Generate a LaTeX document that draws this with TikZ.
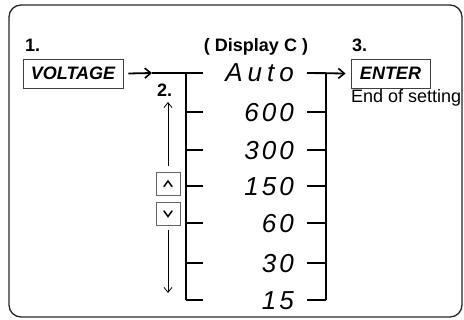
\documentclass[tikz,border=0pt]{standalone}
\usepackage{fontspec}
\setmainfont{Liberation Sans}
\usetikzlibrary{arrows.meta}
\begin{document}
\begin{tikzpicture}[x=1pt,y=-1pt,
  lbl/.style={font=\fontsize{18}{20}\selectfont\bfseries, inner sep=0pt},
  keybox/.style={draw=black!75, line width=0.9pt, font=\fontsize{18}{20}\selectfont\bfseries\itshape, inner sep=0pt},
  plain/.style={font=\fontsize{18}{20}\selectfont, inner sep=0pt},
  segval/.style={font=\fontsize{26}{28}\selectfont\itshape, inner sep=0pt, anchor=base east},
  tree/.style={line width=1.8pt},
  bigarrow/.style={line width=1.8pt, -{Straight Barb[length=6pt,width=10pt,line width=1.6pt]}},
  thinarrow/.style={line width=0.8pt, -{Straight Barb[length=5pt,width=8pt,line width=0.8pt]}},
  btn/.style={draw=black!60, line width=0.9pt, minimum width=24pt, minimum height=23pt, inner sep=0pt},
  chev/.style={line width=1.5pt, line cap=round, line join=miter}
]
\useasboundingbox (0,0) rectangle (464,320);
\draw[rounded corners=12pt, line width=1.3pt, black!85] (9,5) rectangle (462,317);

% labels
\node[lbl, anchor=base west] (n1) at (25,52) {1.};
\node[lbl, anchor=base] (disp) at (256,52) {( Display C )};
\node[lbl, anchor=base west] (n3) at (352,52) {3.};
\node[lbl, anchor=base west] (n2) at (157,97) {2.};

% key boxes
\node[keybox, minimum width=100pt, minimum height=29pt] (volt) at (73,73.5) {VOLTAGE};
\node[keybox, minimum width=79pt, minimum height=29pt] (enter) at (390.5,73.5) {ENTER};
\node[plain, anchor=base west] (endset) at (351,103) {End of setting};

% display values
\node[segval] (v0) at (294,82) {A\kern5pt u\kern5pt t\kern5pt o};
\node[segval] (v1) at (294,122) {6\kern3pt 0\kern3pt 0};
\node[segval] (v2) at (294,160) {3\kern3pt 0\kern3pt 0};
\node[segval] (v3) at (294,196) {1\kern3pt 5\kern3pt 0};
\node[segval] (v4) at (294,233) {6\kern3pt 0};
\node[segval] (v5) at (294,273) {3\kern3pt 0};
\node[segval] (v6) at (294,310) {1\kern3pt 5};

% trees
\coordinate (LT) at (186,73);
\coordinate (LB) at (186,300);
\coordinate (RT) at (326,73);
\coordinate (RB) at (326,300);
\coordinate (ah) at (152,73);
\foreach \i/\y in {0/73,1/112,2/150,3/186,4/223,5/263,6/300}{
  \coordinate (L\i) at (203,\y);
  \coordinate (R\i) at (307,\y);
  \draw[tree] (186,\y) -- (L\i);
  \draw[tree] (R\i) -- (326,\y);
}
\draw[tree] (LT) -- (LB);
\draw[tree] (RT) -- (RB);
\draw[bigarrow] ([xshift=5pt]volt.east) -- (ah);
\draw[tree] (ah) -- (L0);
\draw[bigarrow] (R0) -- ([xshift=-5pt]enter.west);

% up/down buttons
\node[btn] (up) at (168,184) {};
\node[btn] (dn) at (168,213.5) {};
\draw[chev] ([shift={(-4pt,-2.5pt)}]up.center) -- ([shift={(0pt,3pt)}]up.center) -- ([shift={(4pt,-2.5pt)}]up.center);
\draw[chev] ([shift={(-4pt,2.5pt)}]dn.center) -- ([shift={(0pt,-3pt)}]dn.center) -- ([shift={(4pt,2.5pt)}]dn.center);
\coordinate (uptop) at (168,102);
\coordinate (dnbot) at (168,293);
\draw[thinarrow] ([yshift=6pt]up.north) -- (uptop);
\draw[thinarrow] ([yshift=-5pt]dn.south) -- (dnbot);
\end{tikzpicture}
\end{document}
